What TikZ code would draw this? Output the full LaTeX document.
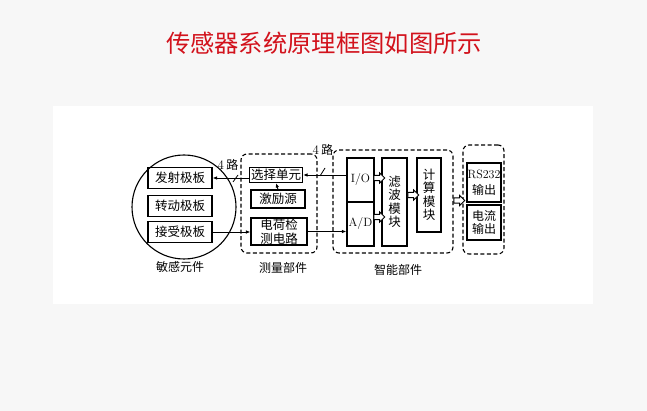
\documentclass[tikz,border=0pt]{standalone}
\usepackage{fontspec}
\newfontfamily\cjk{Noto Sans CJK SC}
\usetikzlibrary{arrows.meta,calc,shapes.arrows}
\definecolor{titlered}{RGB}{210,18,28}
\definecolor{pagegray}{RGB}{247,247,247}

\begin{document}
\begin{tikzpicture}[x=1pt, y=-1pt,
    blk/.style={draw, line width=1.1pt, inner sep=0pt, align=center,
        font=\cjk\fontsize{12.5}{13.5}\selectfont},
    grp/.style={draw, line width=1.1pt, dash pattern=on 4pt off 2.5pt, rounded corners=6pt},
    arr/.style={-{Latex[length=4.5pt,width=3.5pt]}, line width=0.9pt},
    hollow/.style={draw, fill=white, single arrow, line width=0.9pt, inner sep=2.2pt,
        minimum height=11pt, single arrow head extend=2.5pt},
    partlbl/.style={font=\cjk\fontsize{12}{12}\selectfont}]

    % Page
    \useasboundingbox (0,0) rectangle (647,411);
    \fill[pagegray] (0,0) rectangle (647,411);
    \fill[white] (53,106) rectangle (593,304);

    % Title
    \node[text=titlered, font=\cjk\fontsize{24.3}{24}\selectfont] (title) at (324,43) {传感器系统原理框图如图所示};

    % Sensing element
    \node[draw, circle, line width=1.1pt, minimum size=104pt] (sens) at (184,207) {};
    \node[blk, minimum width=64pt, minimum height=21pt] (fs) at (180,178) {发射极板};
    \node[blk, minimum width=64pt, minimum height=21pt] (zd) at (180,206) {转动极板};
    \node[blk, minimum width=64pt, minimum height=21pt] (js) at (180,232) {接受极板};
    \node[partlbl] (senslbl) at (180,267) {敏感元件};

    % Measuring part
    \node[grp, minimum width=76pt, minimum height=99pt] (meas) at (279,203.5) {};
    \node[blk, minimum width=53pt, minimum height=15pt] (sel) at (276,175) {选择单元};
    \node[blk, minimum width=54pt, minimum height=18pt] (jl) at (278,199) {激励源};
    \node[blk, minimum width=56pt, minimum height=27pt] (dh) at (279,231.5) {电荷检\\测电路};
    \node[partlbl] (measlbl) at (283,268) {测量部件};

    % Smart part
    \node[grp, minimum width=120pt, minimum height=103pt] (smart) at (393,201.5) {};
    \node[blk, minimum width=27pt, minimum height=44pt, font=\fontsize{12}{13}\selectfont] (io) at (360.5,180) {I/O};
    \node[blk, minimum width=27pt, minimum height=44pt, font=\fontsize{12}{13}\selectfont] (ad) at (360.5,224) {A/D};
    \node[blk, minimum width=25pt, minimum height=88pt] (lb) at (394.5,202) {滤\\波\\模\\块};
    \node[blk, minimum width=24pt, minimum height=74pt] (js2) at (429,195) {计\\算\\模\\块};
    \node[partlbl] (smartlbl) at (398,270) {智能部件};

    % Output part
    \node[grp, minimum width=41pt, minimum height=109pt] (out) at (483.5,199.5) {};
    \node[blk, minimum width=34pt, minimum height=39pt, font=\cjk\fontsize{12}{16}\selectfont] (rs) at (484,182.5) {{\rmfamily RS232}\\输出};
    \node[blk, minimum width=34pt, minimum height=35pt, font=\cjk\fontsize{12}{13.5}\selectfont] (dl) at (484,222.5) {电流\\输出};

    % Connections
    \draw[arr] (fs.east -| sel.west) -- (fs.east);
    \draw[arr] (js.east) -- (js.east -| dh.west);
    \draw[arr] (jl.north) -- (sel.south);
    \draw[arr] (dh.east) -- (dh.east -| ad.west);
    \draw[arr] (sel.east -| io.west) -- (sel.east);

    % 4 lines marks
    \draw[line width=0.8pt] (233,182) -- (238,175);
    \draw[line width=0.8pt] (320,176) -- (325,168);
    \node[font=\fontsize{13}{13}\selectfont] (four1) at (228,165) {4\,{\cjk\fontsize{12}{12}\selectfont 路}};
    \node[font=\fontsize{13}{13}\selectfont] (four2) at (323,150) {4\,{\cjk\fontsize{12}{12}\selectfont 路}};

    % Block arrows
    \node[hollow] (h1) at ($(io.east)!.5!(io.east -| lb.west)+(0,-2)$) {};
    \node[hollow] (h2) at ($(ad.east)!.5!(ad.east -| lb.west)+(0,-7)$) {};
    \node[hollow] (h3) at ($(lb.east |- js2.center)!.5!(js2.west)$) {};
    \node[hollow] (h4) at ($(smart.east)!.5!(out.west)$) {};

\end{tikzpicture}
\end{document}
